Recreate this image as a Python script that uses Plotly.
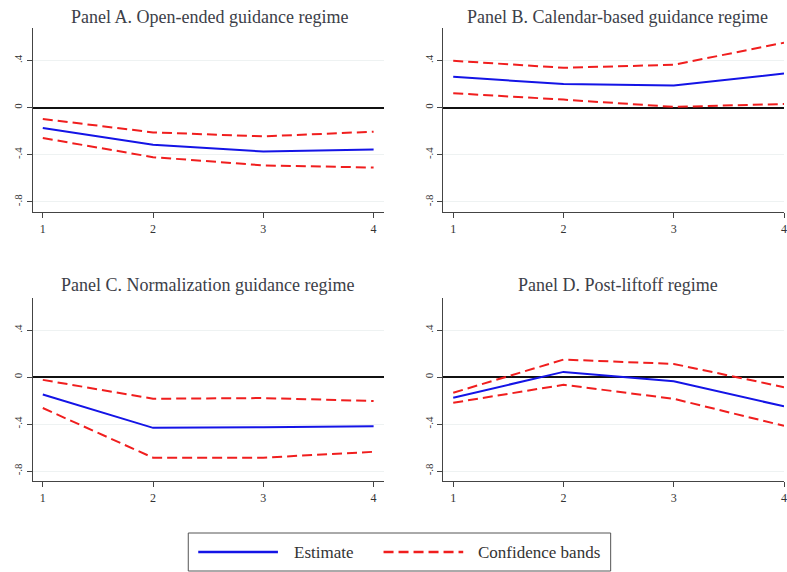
import plotly.graph_objects as go

horizon = [1, 2, 3, 4]
panel_titles = [
    "Panel A. Open-ended guidance regime",
    "Panel B. Calendar-based guidance regime",
    "Panel C. Normalization guidance regime",
    "Panel D. Post-liftoff regime",
]
estimate = [
    [-0.173, -0.315, -0.372, -0.355],
    [0.261, 0.200, 0.187, 0.289],
    [-0.147, -0.432, -0.427, -0.418],
    [-0.175, 0.045, -0.034, -0.249],
]
upper = [
    [-0.096, -0.210, -0.244, -0.204],
    [0.397, 0.338, 0.363, 0.550],
    [-0.023, -0.184, -0.178, -0.203],
    [-0.133, 0.150, 0.113, -0.085],
]
lower = [
    [-0.258, -0.420, -0.490, -0.508],
    [0.122, 0.068, 0.006, 0.031],
    [-0.263, -0.686, -0.686, -0.636],
    [-0.218, -0.065, -0.184, -0.415],
]
ytick_vals = [-0.8, -0.4, 0, 0.4]
ytick_text = ["-.8", "-.4", "0", ".4"]
legend_labels = ["Estimate", "Confidence bands"]

W, H = 787, 572
BLUE = "#1414e6"
RED = "#f01e1e"
SERIF = "Liberation Serif, Times New Roman, serif"

# pixel layout of panels: (left, right, top, bottom)
boxes = [(33, 385, 28, 212), (445, 787, 28, 212), (33, 385, 298, 481), (445, 787, 298, 481)]
xranges = [[0.91, 4.09], [0.91, 4.0], [0.91, 4.09], [0.91, 4.0]]
title_pos = [(210, 17), (620, 17), (208, 285), (620, 285)]

fig = go.Figure()
layout = {}
for i in range(4):
    n = "" if i == 0 else str(i + 1)
    xa, ya = "x" + n, "y" + n
    fig.add_trace(go.Scatter(x=horizon, y=upper[i], mode="lines", xaxis=xa, yaxis=ya,
                             line=dict(color=RED, width=2, dash="10px,5px"), showlegend=False))
    fig.add_trace(go.Scatter(x=horizon, y=lower[i], mode="lines", xaxis=xa, yaxis=ya,
                             line=dict(color=RED, width=2, dash="10px,5px"), showlegend=False))
    fig.add_trace(go.Scatter(x=horizon, y=estimate[i], mode="lines", xaxis=xa, yaxis=ya,
                             line=dict(color=BLUE, width=2), showlegend=False))
    l, r, t, b = boxes[i]
    layout["xaxis" + n] = dict(
        domain=[l / W, r / W], range=xranges[i], anchor=ya,
        tickvals=horizon, ticktext=[str(h) for h in horizon],
        showgrid=False, zeroline=False, showline=True, linecolor="#444", linewidth=1.2,
        ticks="outside", ticklen=5, tickcolor="#444", ticklabeloverflow="allow",
        tickfont=dict(family=SERIF, size=12, color="#333"), fixedrange=True,
    )
    layout["yaxis" + n] = dict(
        domain=[1 - b / H, 1 - t / H], range=[-0.885, 0.675], anchor=xa,
        tickvals=ytick_vals, ticktext=ytick_text, tickangle=-90,
        showgrid=True, gridcolor="#eef2f2", gridwidth=1,
        zeroline=True, zerolinecolor="#111", zerolinewidth=1.5,
        showline=True, linecolor="#444", linewidth=1.2,
        ticks="outside", ticklen=5, tickcolor="#444",
        tickfont=dict(family=SERIF, size=11, color="#333"), fixedrange=True,
    )

annotations = []
for i, (cx, cy) in enumerate(title_pos):
    annotations.append(dict(text=panel_titles[i], x=cx / W, y=1 - cy / H, xref="paper", yref="paper",
                            showarrow=False, xanchor="center", yanchor="middle",
                            font=dict(family=SERIF, size=18, color="#3c4048")))

# legend box drawn as layout decoration
shapes = [
    dict(type="rect", xref="paper", yref="paper", x0=189 / W, x1=613 / W, y0=1 - 571 / H, y1=1 - 533 / H,
         line=dict(color="#555", width=1), fillcolor="white"),
    dict(type="line", xref="paper", yref="paper", x0=199 / W, x1=279 / W, y0=1 - 552 / H, y1=1 - 552 / H,
         line=dict(color=BLUE, width=2.5)),
    dict(type="line", xref="paper", yref="paper", x0=385 / W, x1=465 / W, y0=1 - 552 / H, y1=1 - 552 / H,
         line=dict(color=RED, width=2.5, dash="10px,5px")),
]
annotations.append(dict(text=legend_labels[0], x=293 / W, y=1 - 552 / H, xref="paper", yref="paper",
                        showarrow=False, xanchor="left", yanchor="middle",
                        font=dict(family=SERIF, size=17, color="#333")))
annotations.append(dict(text=legend_labels[1], x=478 / W, y=1 - 552 / H, xref="paper", yref="paper",
                        showarrow=False, xanchor="left", yanchor="middle",
                        font=dict(family=SERIF, size=17, color="#333")))

fig.update_layout(
    width=W, height=H, margin=dict(l=0, r=0, t=0, b=0),
    paper_bgcolor="white", plot_bgcolor="white",
    annotations=annotations, shapes=shapes, showlegend=False,
    **layout,
)
fig.write_html("out.html")
